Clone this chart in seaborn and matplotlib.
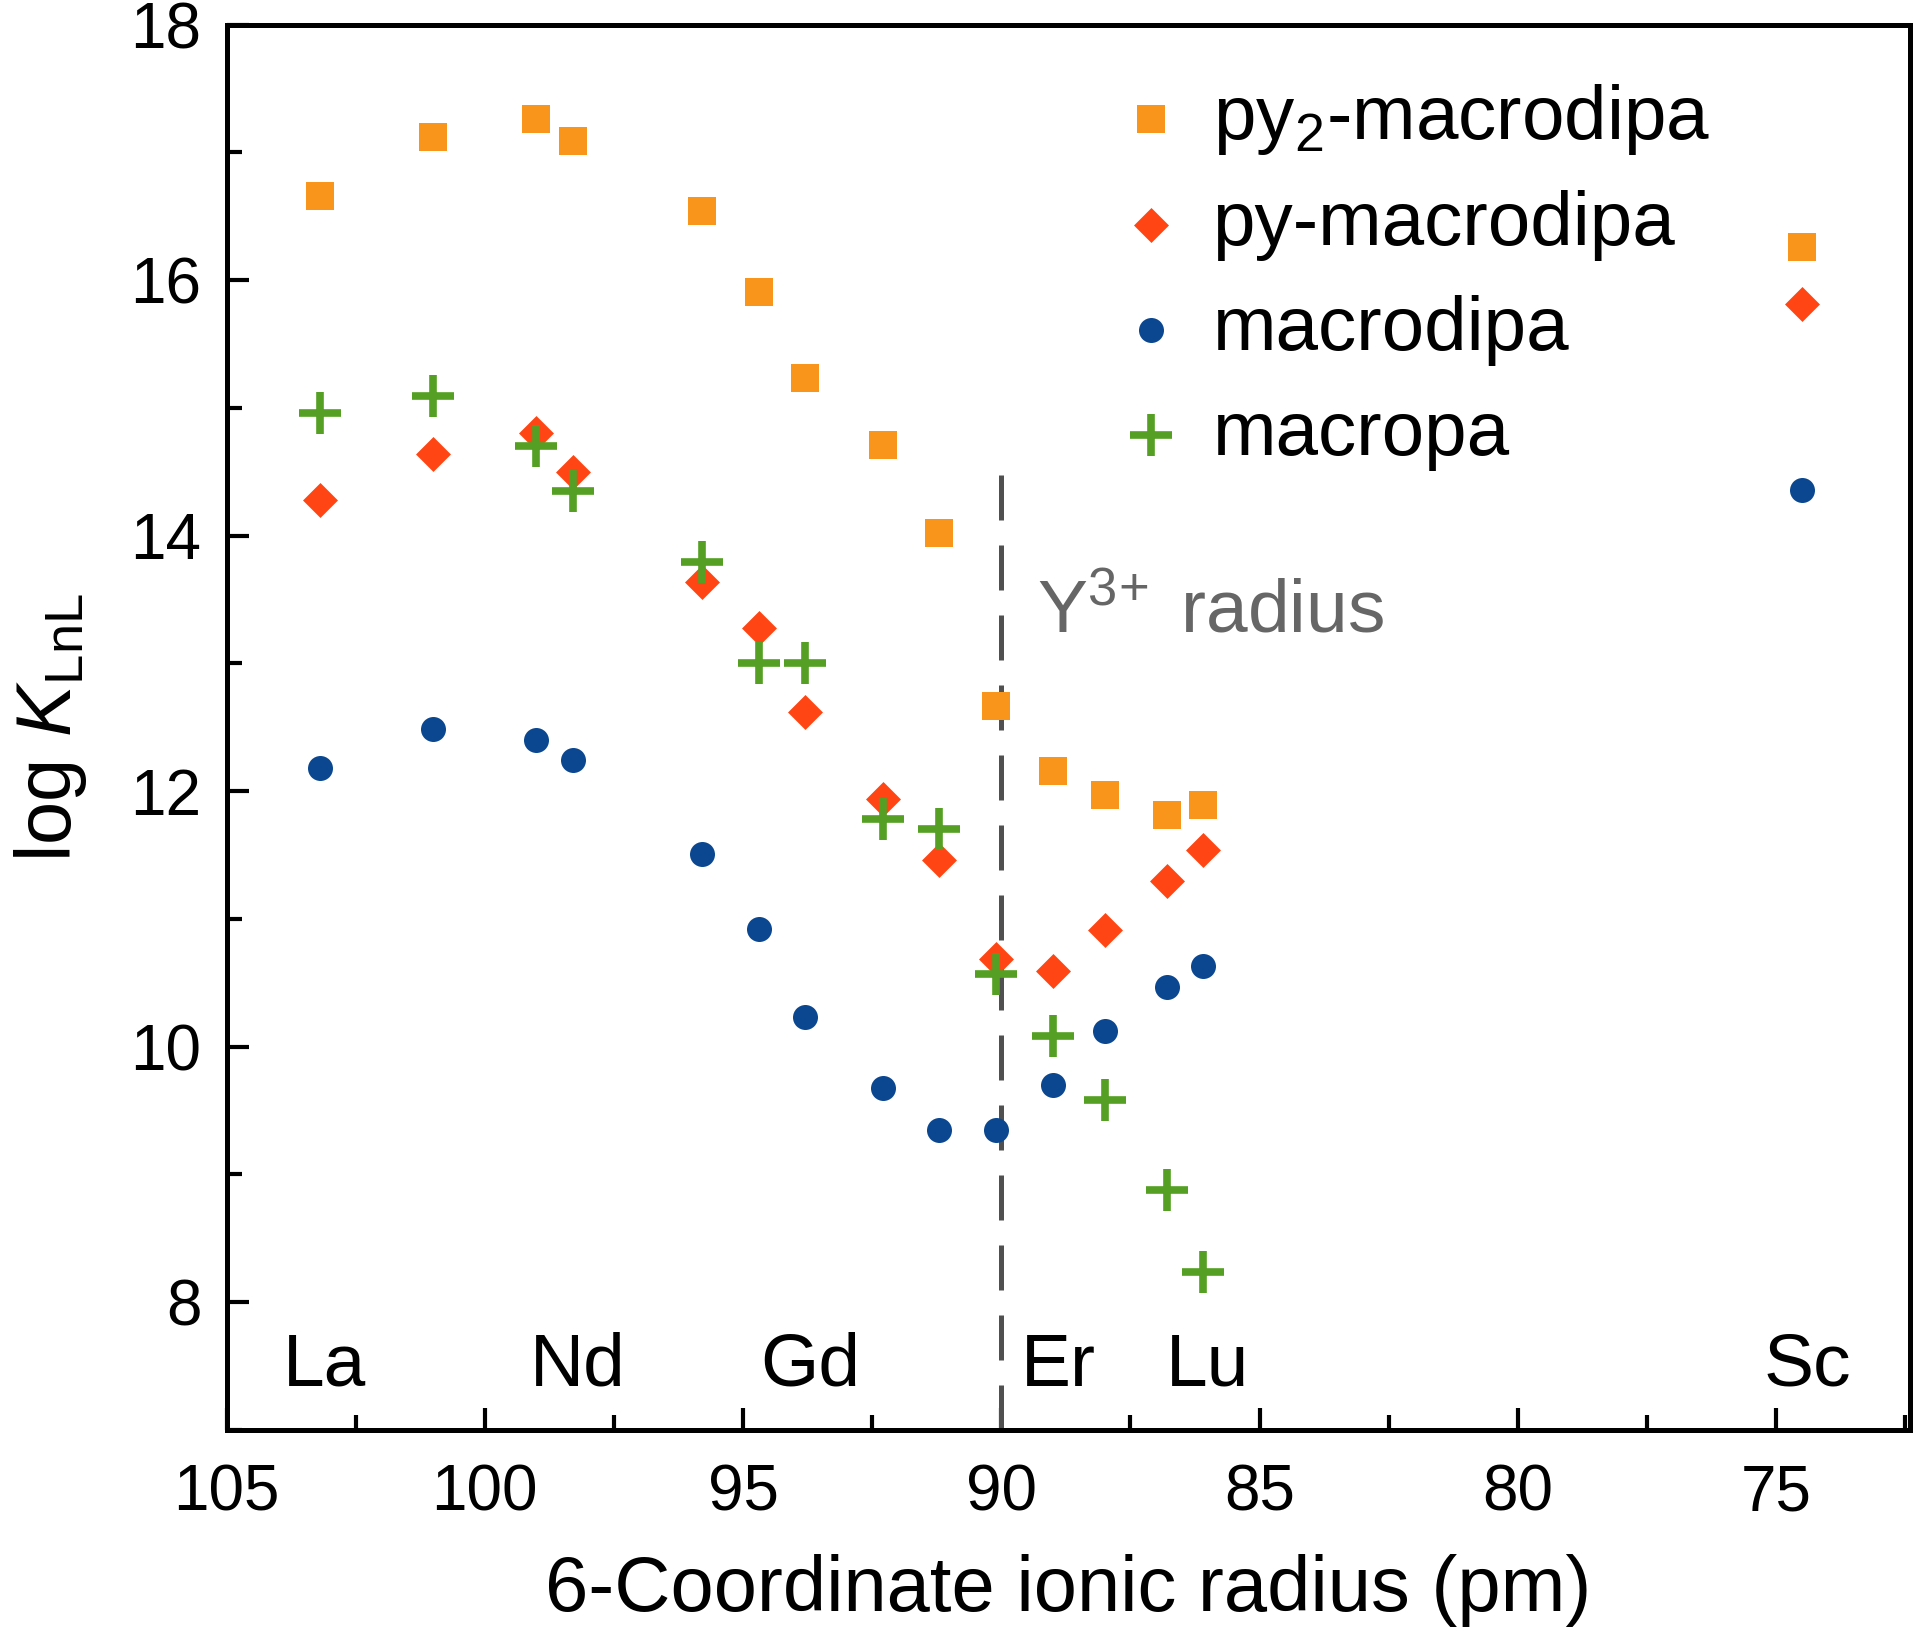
import numpy as np
import pandas as pd
import matplotlib
matplotlib.use("Agg")
import matplotlib.pyplot as plt
import seaborn as sns
from matplotlib.ticker import MultipleLocator

# 6-coordinate ionic radii (pm)
elements = ["La", "Ce", "Pr", "Nd", "Sm", "Eu", "Gd", "Tb", "Dy", "Ho",
            "Er", "Tm", "Yb", "Lu", "Sc"]
radius = [103.2, 101.0, 99.0, 98.3, 95.8, 94.7, 93.8, 92.3, 91.2, 90.1,
          89.0, 88.0, 86.8, 86.1, 74.5]

# log K values
py2_macrodipa = [16.66, 17.12, 17.26, 17.09, 16.54, 15.91, 15.23, 14.71, 14.02, 12.67,
                 12.16, 11.97, 11.81, 11.89, 16.26]
py_macrodipa = [14.28, 14.64, 14.80, 14.50, 13.64, 13.28, 12.62, 11.94, 11.46, 10.69,
                10.59, 10.91, 11.30, 11.54, 15.81]
macrodipa = [12.18, 12.49, 12.40, 12.24, 11.51, 10.92, 10.23, 9.68, 9.35, 9.35,
             9.70, 10.12, 10.47, 10.63, 14.36]
macropa = [14.96, 15.09, 14.70, 14.35, 13.79, 13.00, 13.00, 11.78, 11.70, 10.57,
           10.08, 9.58, 8.88, 8.24, np.nan]

labelled = ["La", "Nd", "Gd", "Er", "Lu", "Sc"]
y_radius = 90.0

sns.set_theme(style="ticks")
plt.rcParams["font.family"] = ["Liberation Sans", "DejaVu Sans"]
plt.rcParams["mathtext.fontset"] = "custom"
plt.rcParams["mathtext.rm"] = "Liberation Sans"
plt.rcParams["mathtext.it"] = "Liberation Sans:italic"
plt.rcParams["text.color"] = "black"
plt.rcParams["axes.labelcolor"] = "black"

df = pd.DataFrame({"radius": radius, "py2": py2_macrodipa, "py": py_macrodipa,
                   "macrodipa": macrodipa, "macropa": macropa})

fig, ax = plt.subplots(figsize=(19.2, 16.35), dpi=100)
fig.subplots_adjust(left=0.118, right=0.995, top=0.985, bottom=0.1254)

sns.scatterplot(data=df, x="radius", y="py2", marker="s", s=400, color="#F9951A",
                linewidth=0, label=r"py$_2$-macrodipa", ax=ax, zorder=3)
sns.scatterplot(data=df, x="radius", y="py", marker="D", s=317, color="#FF4513",
                linewidth=0, label="py-macrodipa", ax=ax, zorder=3)
sns.scatterplot(data=df, x="radius", y="macrodipa", marker="o", s=324, color="#0B4790",
                linewidth=0, label="macrodipa", ax=ax, zorder=3)
sns.scatterplot(data=df.dropna(), x="radius", y="macropa", marker="+", s=900,
                color="#55A024", linewidth=5.5, label="macropa", ax=ax, zorder=4)

ax.axvline(y_radius, ymin=0, ymax=0.685, color="#505050", lw=3.6, dashes=(9, 5), zorder=2)
ax.text(89.3, 13.4, r"Y$^{3\!+}$ radius", color="#666666", fontsize=54, va="center", ha="left")

for el in labelled:
    ax.text(radius[elements.index(el)] - 0.1, 7.5, el, fontsize=54, ha="center", va="center")

ax.set_xlim(105, 72.4)
ax.set_ylim(7, 18)
ax.xaxis.set_major_locator(MultipleLocator(5))
ax.xaxis.set_minor_locator(MultipleLocator(2.5))
ax.yaxis.set_major_locator(MultipleLocator(2))
ax.yaxis.set_minor_locator(MultipleLocator(1))
ax.tick_params(which="both", direction="in", width=3, labelsize=46, colors="black")
ax.tick_params(which="major", length=16)
ax.tick_params(which="minor", length=11)
ax.tick_params(axis="x", pad=24)
ax.tick_params(axis="y", pad=18)

for sp in ax.spines.values():
    sp.set_linewidth(3.6)
    sp.set_color("black")

ax.set_xlabel("6-Coordinate ionic radius (pm)", fontsize=56, labelpad=22)
ax.set_ylabel(r"log $K$$_{\mathrm{LnL}}$", fontsize=56, labelpad=30)

ax.legend(loc="upper left", bbox_to_anchor=(0.488, 1.0), frameon=False, fontsize=55,
          handletextpad=0.2, labelspacing=0.44, borderaxespad=0.35, handlelength=1.2)

fig.savefig("out.png", dpi=100)
